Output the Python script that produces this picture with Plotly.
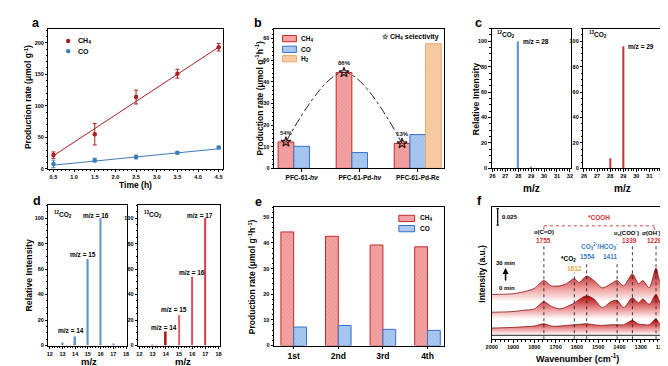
import plotly.graph_objects as go

W, H = 668, 366
FONT = "Liberation Sans, Arial, sans-serif"

# ---------------- data ----------------
# (a) production vs time
a_time = [0.5, 1.5, 2.5, 3.5, 4.5]
a_ch4 = [22, 55, 114, 151, 193]
a_ch4_err = [5, 17, 11, 7, 6]
a_co = [8, 14, 19, 25.5, 34]
a_co_err = [6, 3, 3, 2, 2]
a_fit_time = [0.5, 4.5]
a_ch4_fit = [21, 193]
a_co_fit = [6, 32]

# (b) catalysts
b_cats = ["PFC-61-<i>hν</i>", "PFC-61-Pd-<i>hν</i>", "PFC-61-Pd-Re"]
b_ch4 = [12.2, 44.3, 11.5]
b_co = [10.2, 7.3, 15.6]
b_h2 = [None, None, 57.6]
b_sel = [54, 86, 13]

# (c) MS 12CO2 / 13CO2
c_mz = [28, 29]
c_12 = [100, 1]
c_13 = [8, 96]

# (d) MS methane fragments
d_mz = [13, 14, 15, 16, 17]
d_12 = [2.5, 7, 68, 100, 1.5]
d_13 = [1, 11, 24, 54, 100]

# (e) cycles
e_cats = ["1st", "2nd", "3rd", "4th"]
e_ch4 = [44.3, 42.6, 39.2, 38.5]
e_co = [7.2, 7.8, 6.3, 5.9]

# (f) in-situ IR spectra
f_wn = [2000, 1900, 1850, 1800, 1755, 1720, 1680, 1650, 1612, 1590, 1554, 1520,
        1480, 1440, 1411, 1380, 1339, 1310, 1290, 1260, 1228, 1210, 1195]
f_30 = [0.068, 0.069, 0.072, 0.077, 0.089, 0.081, 0.081, 0.084, 0.092, 0.086, 0.096, 0.089,
        0.078, 0.084, 0.089, 0.081, 0.099, 0.084, 0.089, 0.078, 0.108, 0.089, 0.092]
f_mid = [0.041, 0.042, 0.044, 0.046, 0.057, 0.050, 0.046, 0.049, 0.055, 0.060, 0.066, 0.061,
         0.048, 0.057, 0.059, 0.048, 0.063, 0.055, 0.061, 0.053, 0.068, 0.058, 0.063]
f_low = [0.017, 0.018, 0.019, 0.020, 0.0235, 0.020, 0.020, 0.021, 0.022, 0.0225, 0.0235, 0.022,
         0.021, 0.022, 0.022, 0.022, 0.0285, 0.023, 0.0225, 0.022, 0.031, 0.0235, 0.026]
f_base_wn = [2000, 1195]
f_base = [0.006, 0.006]
f_peaks = [1755, 1612, 1554, 1411, 1339, 1228]

# ---------------- helpers ----------------
def px(x):
    return x / W

def py(y):
    return 1 - y / H

def tf(size=5.5, color="black"):
    return dict(family=FONT, size=size, color=color, weight="bold")

def xdom(l, r):
    return [l / W, r / W]

def ydom(t, b):
    return [1 - b / H, 1 - t / H]

def axis(dom, rng, anchor, **kw):
    d = dict(domain=dom, range=rng, anchor=anchor, showline=True, mirror=True,
             linecolor="black", linewidth=1, ticks="outside", ticklen=2.5, tickwidth=0.8,
             tickcolor="black", showgrid=False, zeroline=False, tickfont=tf())
    d.update(kw)
    return d

annotations = []
shapes = []

def ann(text, x, y, size=7, color="black", xref="paper", yref="paper",
        xanchor="center", yanchor="middle", angle=0):
    if xref == "paper":
        x = px(x)
    if yref == "paper":
        y = py(y)
    annotations.append(dict(text=text, x=x, y=y, xref=xref, yref=yref, xanchor=xanchor,
                            yanchor=yanchor, showarrow=False, textangle=angle,
                            font=tf(size, color)))

RED = "#a82020"
BLUE = "#3c7cba"
CH4_FILL, CH4_LINE = "#f2a3a3", "#c42a2a"
CO_FILL, CO_LINE = "#a9c9f0", "#3a6fc4"
H2_FILL, H2_LINE = "#f8cba4", "#eba86e"

def pat(fg, bg):
    return dict(shape="x", size=3, solidity=0.25, fgcolor=fg, bgcolor=bg)

fig = go.Figure()

# ---------------- (a) ----------------
fig.add_trace(go.Scatter(x=a_fit_time, y=a_ch4_fit, mode="lines", line=dict(color=RED, width=1),
                         xaxis="x", yaxis="y"))
fig.add_trace(go.Scatter(x=a_fit_time, y=a_co_fit, mode="lines", line=dict(color=BLUE, width=1),
                         xaxis="x", yaxis="y"))
fig.add_trace(go.Scatter(x=a_time, y=a_ch4, mode="markers", marker=dict(color=RED, size=4.5),
                         error_y=dict(type="data", array=a_ch4_err, color=RED, thickness=1, width=2),
                         xaxis="x", yaxis="y"))
fig.add_trace(go.Scatter(x=a_time, y=a_co, mode="markers", marker=dict(color=BLUE, size=4.5),
                         error_y=dict(type="data", array=a_co_err, color=BLUE, thickness=1, width=2),
                         xaxis="x", yaxis="y"))

# ---------------- (b) ----------------
b_x = list(range(len(b_cats)))
BW = 0.27
fig.add_trace(go.Bar(x=b_x, y=b_ch4, width=BW, offset=-1.5 * BW,
                     marker=dict(color=CH4_FILL, line=dict(color=CH4_LINE, width=1),
                                 pattern=pat("#e06a6a", CH4_FILL)), xaxis="x2", yaxis="y2"))
fig.add_trace(go.Bar(x=b_x, y=b_co, width=BW, offset=-0.5 * BW,
                     marker=dict(color=CO_FILL, line=dict(color=CO_LINE, width=1),
                                 pattern=pat("#6d9ee0", CO_FILL)), xaxis="x2", yaxis="y2"))
fig.add_trace(go.Bar(x=b_x, y=b_h2, width=BW, offset=0.5 * BW,
                     marker=dict(color=H2_FILL, line=dict(color=H2_LINE, width=1),
                                 pattern=pat("#f2b27e", H2_FILL)), xaxis="x2", yaxis="y2"))
star_x = [v - BW for v in b_x]
fig.add_trace(go.Scatter(x=star_x, y=b_ch4, mode="lines",
                         line=dict(color="#222222", width=1, dash="dashdot", shape="spline"),
                         xaxis="x2", yaxis="y2"))
fig.add_trace(go.Scatter(x=star_x, y=b_ch4, mode="markers+text",
                         text=[f"{s}%" for s in b_sel], textposition="top center",
                         textfont=dict(family=FONT, size=6, color="#222222"),
                         marker=dict(symbol="star-open", size=7.5, color="#3a1a1a",
                                     line=dict(width=1.3)),
                         xaxis="x2", yaxis="y2"))

# ---------------- (c) ----------------
fig.add_trace(go.Bar(x=c_mz, y=c_12, width=0.12, marker=dict(color="#6b9cc8", line=dict(width=0)),
                     xaxis="x3", yaxis="y3"))
fig.add_trace(go.Bar(x=c_mz, y=c_13, width=0.12, marker=dict(color="#c8323c", line=dict(width=0)),
                     xaxis="x4", yaxis="y4"))

# ---------------- (d) ----------------
fig.add_trace(go.Bar(x=d_mz, y=d_12, width=0.12, marker=dict(color="#5a96cc", line=dict(width=0)),
                     xaxis="x5", yaxis="y5"))
fig.add_trace(go.Bar(x=d_mz, y=d_13, width=0.12,
                     marker=dict(color=["#e8a0a8", "#a8141e", "#e2606c", "#e2505c", "#d8404c"],
                                 line=dict(width=0)),
                     xaxis="x6", yaxis="y6"))

# ---------------- (e) ----------------
e_x = list(range(len(e_cats)))
EW = 0.287
fig.add_trace(go.Bar(x=e_x, y=e_ch4, width=EW, offset=-EW,
                     marker=dict(color=CH4_FILL, line=dict(color=CH4_LINE, width=1),
                                 pattern=pat("#e06a6a", CH4_FILL)), xaxis="x7", yaxis="y7"))
fig.add_trace(go.Bar(x=e_x, y=e_co, width=EW, offset=0,
                     marker=dict(color=CO_FILL, line=dict(color=CO_LINE, width=1),
                                 pattern=pat("#6d9ee0", CO_FILL)), xaxis="x7", yaxis="y7"))

# ---------------- (f) ----------------
for ys, lo, hi in [(f_30, 0.058, 0.106), (f_mid, 0.032, 0.066), (f_low, 0.008, 0.030)]:
    fig.add_trace(go.Scatter(x=f_wn, y=ys, mode="lines", fill="tozeroy",
                             line=dict(color="#8a1414", width=0.8, shape="spline", smoothing=0.8),
                             fillgradient=dict(type="vertical", start=lo, stop=hi,
                                               colorscale=[[0, "#ffffff"], [0.4, "#efa0a0"],
                                                           [1, "#b40c0c"]]),
                             xaxis="x8", yaxis="y8"))
fig.add_trace(go.Scatter(x=f_base_wn, y=f_base, mode="lines", line=dict(color="#222222", width=1),
                         xaxis="x8", yaxis="y8"))

line_tops = {1755: 0.142, 1612: 0.101, 1554: 0.118, 1411: 0.118, 1339: 0.142, 1228: 0.142}
for p in f_peaks:
    shapes.append(dict(type="line", xref="x8", yref="y8", x0=p, x1=p, y0=0, y1=line_tops[p],
                       line=dict(color="#222222", width=0.9, dash="dot"), layer="above"))
# *COOH bracket
shapes.append(dict(type="line", xref="x8", yref="y8", x0=1755, x1=1236, y0=0.172, y1=0.172,
                   line=dict(color="#c83030", width=0.9, dash="dot")))
for xb in (1755, 1236):
    shapes.append(dict(type="line", xref="x8", yref="y8", x0=xb, x1=xb, y0=0.166, y1=0.172,
                       line=dict(color="#c83030", width=0.9, dash="dot")))
# scale bar
shapes.append(dict(type="line", xref="x8", yref="y8", x0=1972, x1=1972, y0=0.173, y1=0.198,
                   line=dict(color="black", width=1.2)))
for yb in (0.173, 0.198):
    shapes.append(dict(type="line", xref="x8", yref="y8", x0=1978, x1=1966, y0=yb, y1=yb,
                       line=dict(color="black", width=1)))

F_RED, F_BLUE, F_ORANGE = "#d0343a", "#3a7cc4", "#e3a548"
ann("0.025", 1963, 0.186, 6, xref="x8", yref="y8", xanchor="left")
ann("*COOH", 1495, 0.184, 6.5, F_RED, xref="x8", yref="y8")
ann("υ(C=O)", 1755, 0.162, 6, xref="x8", yref="y8")
ann("1755", 1755, 0.149, 6.5, F_RED, xref="x8", yref="y8")
ann("υ<sub>s</sub>(COO<sup>-</sup>)", 1368, 0.162, 6, xref="x8", yref="y8")
ann("1339", 1354, 0.149, 6.5, F_RED, xref="x8", yref="y8")
ann("σ(OH<sup>-</sup>)", 1248, 0.162, 6, xref="x8", yref="y8")
ann("1228", 1236, 0.149, 6.5, F_RED, xref="x8", yref="y8")
ann("CO<sub>3</sub><sup>2-</sup>/HCO<sub>3</sub><sup>-</sup>", 1495, 0.140, 6.5, F_BLUE,
    xref="x8", yref="y8")
ann("1554", 1548, 0.126, 6.5, F_BLUE, xref="x8", yref="y8")
ann("1411", 1442, 0.126, 6.5, F_BLUE, xref="x8", yref="y8")
ann("*CO<sub>2</sub>", 1637, 0.121, 6.5, xref="x8", yref="y8")
ann("1612", 1611, 0.108, 6.5, F_ORANGE, xref="x8", yref="y8")
ann("30 min", 1935, 0.116, 6, xref="x8", yref="y8")
ann("0 min", 1926, 0.077, 6, xref="x8", yref="y8")
annotations.append(dict(x=1935, y=0.108, ax=1935, ay=0.087, xref="x8", yref="y8",
                        axref="x8", ayref="y8", showarrow=True, arrowhead=2, arrowsize=0.8,
                        arrowwidth=1.5, arrowcolor="black", text=""))

# ---------------- panel letters & titles ----------------
for L, x, y in [("a", 22, 15), ("b", 248, 15), ("c", 472, 15), ("d", 23, 195), ("e", 248, 196),
                ("f", 473, 195)]:
    ann(L, x, y, 12.5)

ann("Production rate (μmol g<sup>-1</sup>)", 14, 90, 8.5, angle=-90)
ann("Time (h)", 123, 178, 8.5)
ann("Production rate (μmol g<sup>-1</sup>h<sup>-1</sup>)", 249, 91, 8.5, angle=-90)
ann("Relative Intensity", 469, 92, 8.8, angle=-90)
ann("m/z", 525, 182, 10)
ann("m/z", 618, 182, 10)
ann("Relative Intensity", 15, 270, 8.8, angle=-90)
ann("m/z", 76, 349, 9.5, yanchor="top")
ann("m/z", 172, 349, 9.5, yanchor="top")
ann("Production rate (μmol g<sup>-1</sup>h<sup>-1</sup>)", 242, 271, 8.5, angle=-90)
ann("Intensity (a.u.)", 475, 268, 8.5, angle=-90)
ann("Wavenumber (cm<sup>-1</sup>)", 572, 353, 9)

# (c) labels
ann("<sup>12</sup>CO<sub>2</sub>", 26.2, 105, 6.5, xref="x3", yref="y3", xanchor="left")
ann("m/z = 28", 28.2, 100, 6.5, xref="x3", yref="y3", xanchor="left")
ann("<sup>13</sup>CO<sub>2</sub>", 26.2, 105, 6.5, xref="x4", yref="y4", xanchor="left")
ann("m/z = 29", 29.2, 96, 6.5, xref="x4", yref="y4", xanchor="left")
# (d) labels
ann("<sup>12</sup>CO<sub>2</sub>", 12.2, 103, 6.5, xref="x5", yref="y5", xanchor="left")
ann("m/z = 16", 15.6, 102, 6.5, xref="x5", yref="y5")
ann("m/z = 15", 14.6, 71.5, 6.5, xref="x5", yref="y5")
ann("m/z = 14", 13.7, 11.5, 6.5, xref="x5", yref="y5")
ann("<sup>13</sup>CO<sub>2</sub>", 12.2, 103, 6.5, xref="x6", yref="y6", xanchor="left")
ann("m/z = 17", 16.6, 102, 6.5, xref="x6", yref="y6")
ann("m/z = 16", 16.0, 57, 6.5, xref="x6", yref="y6")
ann("m/z = 15", 14.65, 28, 6.5, xref="x6", yref="y6")
ann("m/z = 14", 13.85, 14, 6.5, xref="x6", yref="y6")

# ---------------- manual legends ----------------
# (a)
for yc, col, lab in [(33.3, RED, "CH<sub>4</sub>"), (43.5, BLUE, "CO")]:
    shapes.append(dict(type="circle", xref="paper", yref="paper", x0=px(52.8), x1=px(57.2),
                       y0=py(yc + 2.2), y1=py(yc - 2.2), fillcolor=col, line=dict(width=0)))
    ann(lab, 63, yc, 7, xanchor="left")
# (b)
for yt, yb, fc, lc, lab in [(27.7, 34, CH4_FILL, CH4_LINE, "CH<sub>4</sub>"),
                            (38.5, 44.8, CO_FILL, CO_LINE, "CO"),
                            (48, 54.3, H2_FILL, H2_LINE, "H<sub>2</sub>")]:
    shapes.append(dict(type="rect", xref="paper", yref="paper", x0=px(272.7), x1=px(286.7),
                       y0=py(yb), y1=py(yt), fillcolor=fc, line=dict(color=lc, width=1)))
    ann(lab, 289.5, (yt + yb) / 2, 6.5, xanchor="left")
ann("☆ CH<sub>4</sub> selectivity", 372, 29, 7, xanchor="left")
# (e)
for yt, yb, fc, lc, lab in [(209, 215.3, CH4_FILL, CH4_LINE, "CH<sub>4</sub>"),
                            (219.3, 225.6, CO_FILL, CO_LINE, "CO")]:
    shapes.append(dict(type="rect", xref="paper", yref="paper", x0=px(390.7), x1=px(406.7),
                       y0=py(yb), y1=py(yt), fillcolor=fc, line=dict(color=lc, width=1)))
    ann(lab, 410, (yt + yb) / 2, 6.5, xanchor="left")

minor = dict(ticks="outside", ticklen=1.5, tickcolor="black")

fig.update_layout(
    width=W, height=H, margin=dict(l=0, r=0, t=0, b=0),
    paper_bgcolor="white", plot_bgcolor="white", showlegend=False, barmode="overlay",
    font=dict(family=FONT, size=7, color="black", weight="bold"),
    xaxis=axis(xdom(35, 212), [0.38, 4.6], "y", tick0=0.5, dtick=0.5, tickformat=".1f", minor=minor),
    yaxis=axis(ydom(20.7, 162.3), [0, 222.5], "x", tick0=0, dtick=50, minor=minor),
    xaxis2=axis(xdom(264, 437), [-0.475, 2.46], "y2", tickmode="array", tickvals=b_x,
                ticktext=b_cats, tickfont=tf(6.5)),
    yaxis2=axis(ydom(20.7, 161.7), [0, 64.6], "x2", dtick=10, minor=minor),
    xaxis3=axis(xdom(485, 565), [25.95, 32.05], "y3", dtick=1, minor=minor),
    yaxis3=axis(ydom(20.7, 161.7), [0, 110], "x3", dtick=20, minor=minor),
    xaxis4=axis(xdom(578, 659), [25.95, 32.05], "y4", dtick=1, minor=minor),
    yaxis4=axis(ydom(20.7, 161.7), [0, 110], "x4", dtick=20, minor=minor),
    xaxis5=axis(xdom(35, 115), [11.9, 18.1], "y5", dtick=1, minor=minor),
    yaxis5=axis(ydom(199, 340.3), [0, 110], "x5", dtick=20, minor=minor),
    xaxis6=axis(xdom(126, 209), [11.9, 18.1], "y6", dtick=1, minor=minor),
    yaxis6=axis(ydom(199, 340.3), [0, 110], "x6", dtick=20, minor=minor),
    xaxis7=axis(xdom(264, 437), [-0.44, 3.38], "y7", tickmode="array", tickvals=e_x,
                ticktext=e_cats, tickfont=tf(8.5)),
    yaxis7=axis(ydom(200.7, 340.3), [0, 54], "x7", dtick=10, minor=minor),
    xaxis8=axis(xdom(485, 660), [2000, 1190], "y8", tick0=0, dtick=100, minor=minor),
    yaxis8=axis(ydom(201, 334), [0, 0.2], "x8", showticklabels=False, ticks=""),
    annotations=annotations, shapes=shapes,
)

fig.write_html("out.html")
